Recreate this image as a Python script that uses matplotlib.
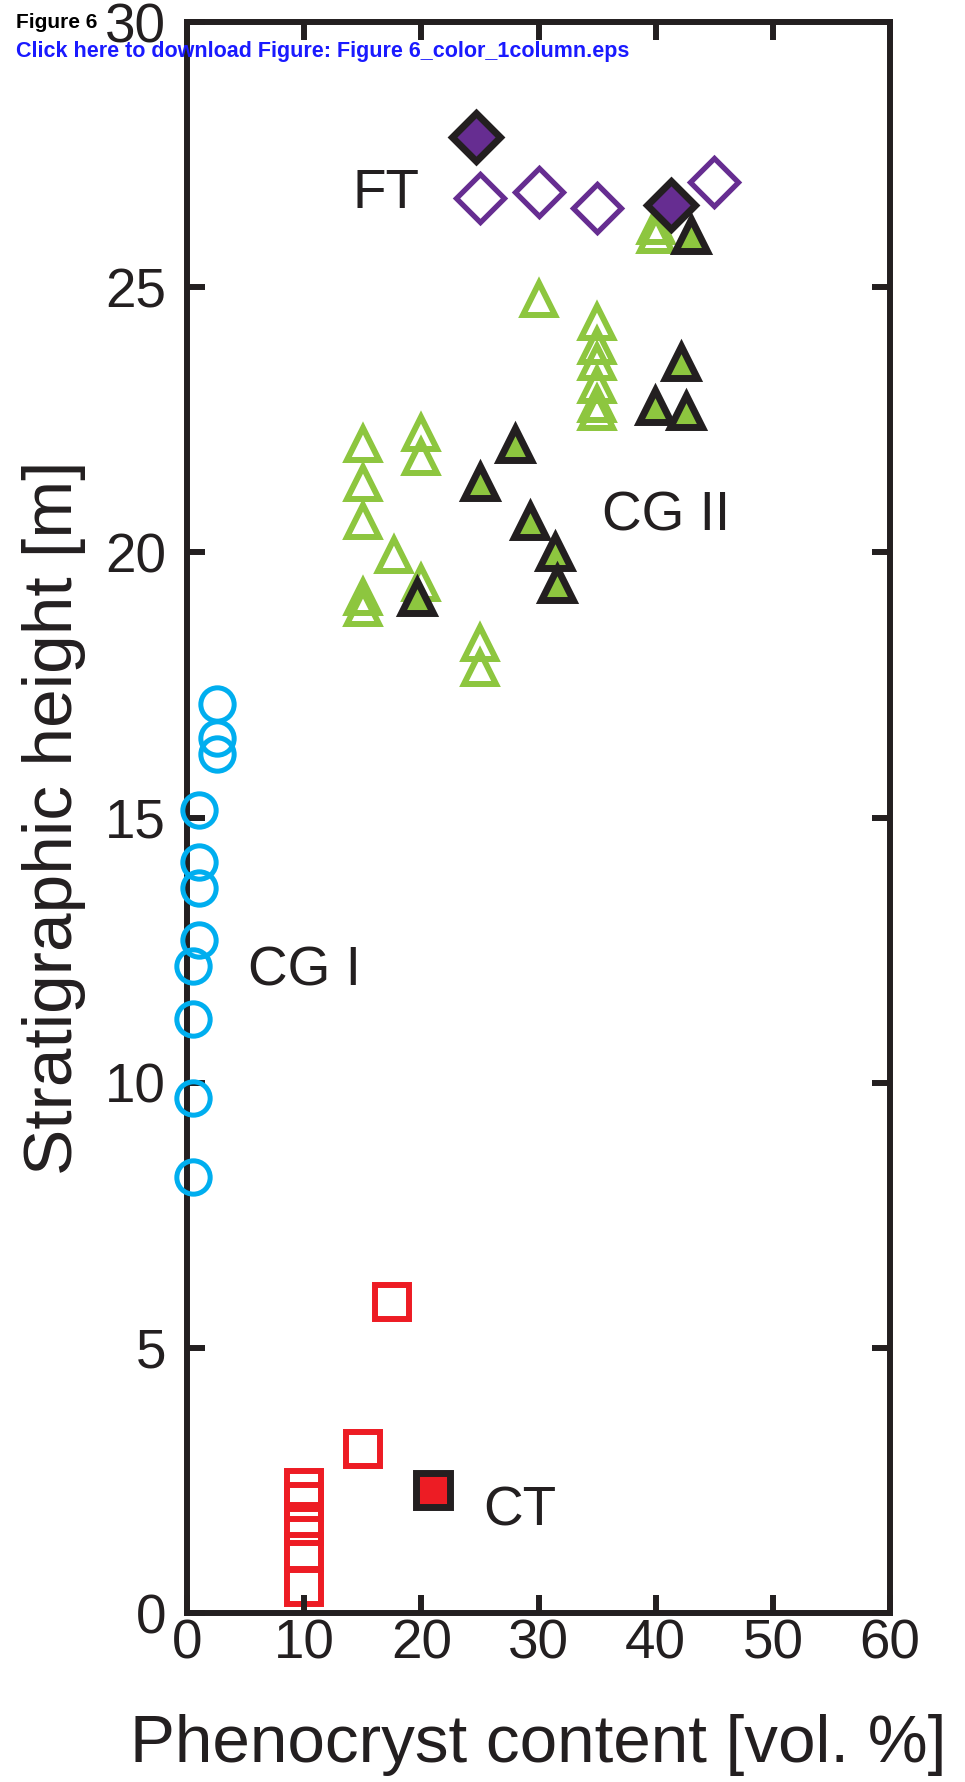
import matplotlib
matplotlib.use("Agg")
import matplotlib.pyplot as plt

plt.rcParams['font.family'] = ['Liberation Sans', 'DejaVu Sans']

# CG I (blue open circles)
cg1_x = [2.6, 2.6, 2.6, 1.0, 1.0, 1.0, 1.0, 0.5, 0.5, 0.5, 0.5]
cg1_y = [17.15, 16.5, 16.2, 15.15, 14.17, 13.67, 12.69, 12.2, 11.2, 9.72, 8.23]

# CG II open (light green triangles)
cg2_open_x = [15, 15, 15, 15, 15, 17.7, 20, 20, 20, 25, 25, 30,
              35, 35, 35, 35, 35, 35, 40, 40]
cg2_open_y = [22.05, 21.3, 20.6, 19.15, 18.95, 19.95, 22.25, 21.8, 19.42, 18.29, 17.83, 24.78,
              24.35, 23.9, 23.6, 23.15, 22.8, 22.65, 26.16, 25.99]

# CG II filled (green triangles, black edge)
cg2_fill_x = [19.6, 25.0, 28.0, 29.3, 31.4, 31.6, 39.9, 42.2, 42.6, 43.0]
cg2_fill_y = [19.15, 21.32, 22.05, 20.6, 20.0, 19.4, 22.77, 23.6, 22.67, 25.98]

# FT (purple diamonds)
ft_open_x = [25, 30, 35, 45]
ft_open_y = [26.68, 26.79, 26.49, 26.99]
ft_fill_x = [24.7, 41.3]
ft_fill_y = [27.83, 26.56]

# CT (red squares)
ct_open_x = [10, 10, 10, 10, 10, 15, 17.5]
ct_open_y = [2.35, 2.1, 1.65, 1.15, 0.5, 3.09, 5.86]
ct_fill_x = [21]
ct_fill_y = [2.32]

labels = ["FT", "CG II", "CG I", "CT"]
label_x = [17.0, 40.9, 10.0, 28.4]
label_y = [26.5, 20.42, 11.83, 1.66]

black = '#231F20'
green = '#8DC63F'
purple = '#662D91'
red = '#ED1C24'
cyan = '#00AEEF'

fig = plt.figure(figsize=(9.65, 17.82), dpi=100)
ax = fig.add_axes([0.1938, 0.0948, 0.7285, 0.8928])
ax.set_axisbelow(False)

ax.plot(ct_open_x, ct_open_y, 's', ms=24.5, mfc='none', mec=red, mew=4.3, zorder=2, clip_on=False)
ax.plot(ct_fill_x, ct_fill_y, 's', ms=24, mfc=red, mec=black, mew=5, zorder=2, clip_on=False)
ax.plot(cg1_x, cg1_y, 'o', ms=24, mfc='none', mec=cyan, mew=3.6, zorder=3, clip_on=False)
ax.plot(cg2_open_x, cg2_open_y, '^', ms=23.5, mfc='none', mec=green, mew=4.3, zorder=2)
ax.plot(cg2_fill_x, cg2_fill_y, '^', ms=23, mfc=green, mec=black, mew=5, zorder=2.1)
ax.plot(ft_open_x, ft_open_y, 'D', ms=24.5, mfc='none', mec=purple, mew=3.8, zorder=2.2)
ax.plot(ft_fill_x, ft_fill_y, 'D', ms=24, mfc=purple, mec=black, mew=5, zorder=2.3)

for t, x, y in zip(labels, label_x, label_y):
    ax.text(x, y, t, fontsize=39.5, color=black, ha='center', va='baseline')

ax.set_xlim(0, 60)
ax.set_ylim(0, 30)
ax.set_xticks([0, 10, 20, 30, 40, 50, 60])
ax.set_yticks([0, 5, 10, 15, 20, 25, 30])
ax.tick_params(direction='in', length=13, width=4.3, color=black, labelsize=39.5,
               labelcolor=black, top=True, right=True)
ax.tick_params(axis='x', pad=4)
ax.tick_params(axis='y', pad=15)
for s in ax.spines.values():
    s.set_linewidth(4.3)
    s.set_color(black)

ax.set_xlabel("Phenocryst content [vol. %]", fontsize=48.5, color=black, labelpad=31)
ax.set_ylabel("Stratigraphic height [m]", fontsize=50, color=black, labelpad=14)

fig.text(16/965, 1 - 28/1782, "Figure 6", fontsize=15, fontweight='bold', color='black')
fig.text(16/965, 1 - 57/1782, "Click here to download Figure: Figure 6_color_1column.eps",
         fontsize=15.5, fontweight='bold', color='#1A1AFF')

fig.savefig("out.png", dpi=100)
